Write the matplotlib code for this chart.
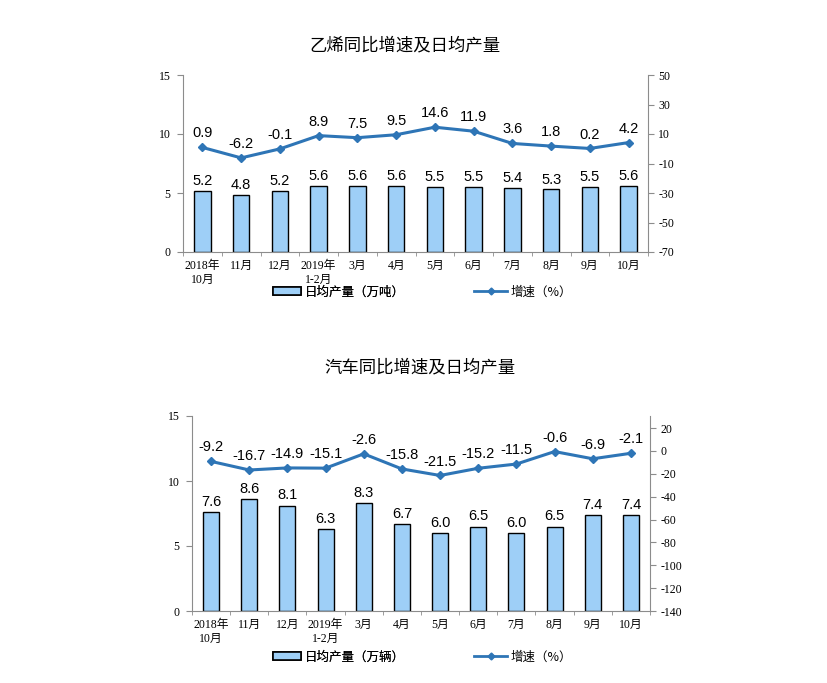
import matplotlib
matplotlib.use("Agg")

import matplotlib.pyplot as plt
import numpy as np
from matplotlib.patches import Patch
from matplotlib.lines import Line2D

plt.rcParams["font.family"] = ["Noto Sans CJK SC", "DejaVu Sans"]

months = ["2018年\n10月", "11月", "12月", "2019年\n1-2月", "3月", "4月",
          "5月", "6月", "7月", "8月", "9月", "10月"]

ethylene_output = [5.2, 4.8, 5.2, 5.6, 5.6, 5.6, 5.5, 5.5, 5.4, 5.3, 5.5, 5.6]
ethylene_growth = [0.9, -6.2, -0.1, 8.9, 7.5, 9.5, 14.6, 11.9, 3.6, 1.8, 0.2, 4.2]

car_output = [7.6, 8.6, 8.1, 6.3, 8.3, 6.7, 6.0, 6.5, 6.0, 6.5, 7.4, 7.4]
car_growth = [-9.2, -16.7, -14.9, -15.1, -2.6, -15.8, -21.5, -15.2, -11.5, -0.6, -6.9, -2.1]

BAR_COLOR = "#9ECFF7"
LINE_COLOR = "#2E75B6"
AXIS_COLOR = "#8C8C8C"
TICK_FONT = ["Liberation Serif", "Noto Sans CJK SC"]
W, H = 827, 683


def draw_panel(fig, rect, title, title_xy, output, growth, rlim, rticks,
               unit, legend_y):
    ax = fig.add_axes(rect)
    x = np.arange(len(months))
    ax.bar(x, output, width=0.42, color=BAR_COLOR, edgecolor="black",
           linewidth=1.0, zorder=2)
    for xi, v in zip(x, output):
        ax.text(xi, v + 0.25, f"{v:.1f}", ha="center", va="bottom",
                fontsize=10.5, family="Liberation Sans")
    ax.set_xlim(-0.5, len(months) - 0.5)
    ax.set_ylim(0, 15)
    ax.set_yticks([0, 5, 10, 15])
    ax.set_xticks(x)
    ax.set_xticklabels(months, fontsize=8.5, linespacing=1.15,
                       family=TICK_FONT)
    ax.set_yticklabels(["0", "5", "10", "15"], fontsize=8.5, family=TICK_FONT)
    ax.set_xticks(np.arange(len(months) + 1) - 0.5, minor=True)
    ax.tick_params(axis="x", which="major", length=0, pad=6)
    ax.tick_params(axis="x", which="minor", length=3, color=AXIS_COLOR)
    ax.tick_params(axis="y", length=4, color=AXIS_COLOR, pad=5)
    ax.spines["top"].set_visible(False)
    ax.spines["right"].set_visible(False)
    for s in ("left", "bottom"):
        ax.spines[s].set_color(AXIS_COLOR)

    ax2 = ax.twinx()
    ax2.plot(x, growth, color=LINE_COLOR, linewidth=2.2, marker="D",
             markersize=4.5, zorder=3)
    for xi, v in zip(x, growth):
        ax2.annotate(f"{v:.1f}", (xi, v), xytext=(0, 5),
                     textcoords="offset points", ha="center", va="bottom",
                     fontsize=10.5, family="Liberation Sans")
    ax2.set_ylim(*rlim)
    ax2.set_yticks(rticks)
    ax2.set_yticklabels([str(t) for t in rticks], fontsize=8.5,
                        family=TICK_FONT)
    ax2.tick_params(axis="y", length=4, color=AXIS_COLOR)
    for s in ("top", "left", "bottom"):
        ax2.spines[s].set_visible(False)
    ax2.spines["right"].set_color(AXIS_COLOR)

    fig.text(title_xy[0] / W, 1 - title_xy[1] / H, title, ha="center",
             va="center", fontsize=12.5)

    handles = [Patch(facecolor=BAR_COLOR, edgecolor="black", linewidth=1.2)]
    leg1 = fig.legend(handles, [f"日均产量（{unit}）"], loc="center left",
                      bbox_to_anchor=(262 / W, 1 - legend_y / H), frameon=False,
                      fontsize=9, handlelength=2.2, handleheight=0.6,
                      handletextpad=0.3)
    fig.add_artist(leg1)
    line_h = [Line2D([0], [0], color=LINE_COLOR, linewidth=2, marker="D",
                     markersize=3.5)]
    fig.legend(line_h, ["增速（%）"], loc="center left",
               bbox_to_anchor=(463 / W, 1 - legend_y / H), frameon=False,
               fontsize=9, handlelength=2.6, handletextpad=0.3)


fig = plt.figure(figsize=(W / 100, H / 100), dpi=100)

draw_panel(fig, [183 / W, 1 - 252 / H, (648 - 183) / W, (252 - 75) / H],
           "乙烯同比增速及日均产量", (405, 45), ethylene_output, ethylene_growth,
           (-70, 50), [50, 30, 10, -10, -30, -50, -70], "万吨", 292)

draw_panel(fig, [192 / W, 1 - 611 / H, (650 - 192) / W, (611 - 416) / H],
           "汽车同比增速及日均产量", (420, 367), car_output, car_growth,
           (-140, 30.5), list(range(-140, 21, 20)), "万辆", 657)

plt.savefig("out.png", dpi=100)
plt.close()
